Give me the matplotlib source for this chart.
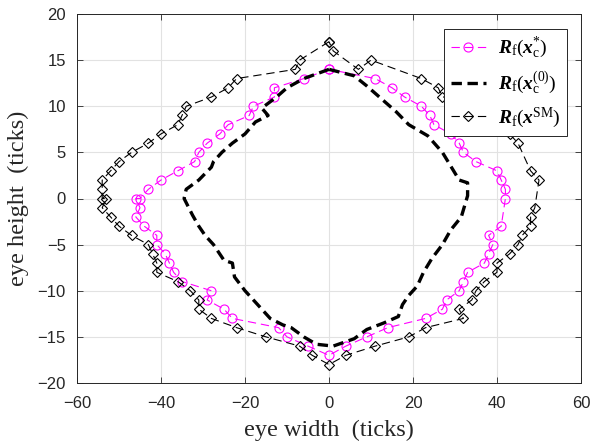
import matplotlib
matplotlib.use('Agg')
import matplotlib.pyplot as plt

## 1. Data 数据
# R_f(x_c*) : pink circles
opt_x = [0, -6, -13, -13, -18, -19, -24, -26, -29, -31, -32, -36, -40, -43, -45, -46,
         -45, -46, -44, -41, -41, -39, -38, -37, -35, -28, -29, -25, -23, -12, -10, -5,
         0, 4, 9, 14, 23, 27, 28, 31, 32, 33, 37, 38, 39, 38, 41, 42,
         42, 41, 40, 35, 32, 31, 29, 25, 24, 22, 18, 15, 11, 0]
opt_y = [14, 13, 12, 11, 10, 9, 8, 7, 6, 5, 4, 3, 2, 1, 0, 0,
         -1, -2, -3, -4, -5, -6, -7, -8, -9, -10, -11, -12, -13, -14, -15, -16,
         -17, -16, -15, -14, -13, -12, -11, -10, -9, -8, -7, -6, -5, -4, -3, 0,
         1, 2, 3, 4, 5, 6, 7, 8, 9, 10, 11, 12, 13, 14]

# R_f(x_c^(0)) : thick black dashed
init_x = [0, -6, -10, -12.5, -16, -14.5, -17.5, -20, -23, -25.5, -27.5, -28, -31, -34, -34.5,
          -32.5, -31, -29.5, -27.5, -25, -23, -22.5, -20, -17, -14, -11, -9, -6, -3, 1,
          6, 9, 13, 16.5, 17.5, 19, 21, 22.5, 24.5, 27, 29, 31.5, 33, 33,
          31, 29, 27, 23.5, 19, 16, 12, 9, 6, 0]
init_y = [14, 13, 12, 11, 9.8, 9, 8.3, 7, 6, 5, 4, 3.4, 2, 1, 0,
          -1.8, -3, -4, -5, -6.7, -7, -8.5, -10, -11.5, -13, -13.7, -14, -15, -15.8, -16,
          -15.2, -14.2, -13.5, -12.8, -11.5, -10.5, -9.5, -8, -6.5, -5, -3.4, -2, 0.3, 1.7,
          2, 3.5, 5, 6.8, 8, 9.4, 11, 12.2, 13.3, 14]

# R_f(x^SM) : black diamonds
sm_x = [0, -7, -8, -22, -24, -28, -34, -35, -36, -40, -43, -47, -50, -52, -54, -54, -54, -53,
        -54, -52, -50, -47, -43, -42, -41, -41, -36, -33, -31, -31, -28, -22, -15, -7, -4,
        0, 4, 11, 19, 23, 32, 31, 34, 35, 37, 40, 40, 43, 45, 46, 48, 48, 49,
        50, 48, 45, 43, 41, 38, 34, 30, 27, 26, 22, 10, 7, 1, 0]
sm_y = [17, 15, 14, 13, 12, 11, 10, 9, 8, 7, 6, 5, 4, 3, 2, 1, 0, 0,
        -1, -2, -3, -4, -5, -6, -7, -8, -9, -10, -11, -12, -13, -14, -15, -16, -17,
        -18, -17, -16, -15, -14, -13, -12, -11, -10, -9, -8, -7, -6, -5, -4, -3, -2, -1,
        2, 3, 6, 7, 8, 9, 10, 11, 11, 12, 13, 15, 14, 16, 17]

xticks = [-60, -40, -20, 0, 20, 40, 60]
yticks = [-20, -15, -10, -5, 0, 5, 10, 15, 20]

## 2. Style 样式
plt.rcParams['lines.scale_dashes'] = False
plt.rcParams['mathtext.fontset'] = 'custom'
plt.rcParams['mathtext.rm'] = 'Liberation Serif'
plt.rcParams['mathtext.it'] = 'Liberation Serif:italic'
plt.rcParams['mathtext.bf'] = 'Liberation Serif:bold'
plt.rcParams['mathtext.bfit'] = 'Liberation Serif:italic:bold'

axcol = '#262626'

## 3. Plotting 作图
fig = plt.figure(figsize=(6.07, 4.45), dpi=100)
ax = fig.add_axes([77 / 607, 62 / 445, 504 / 607, 369 / 445])

ax.plot(opt_x, opt_y, color='#ff00ff', lw=0.8, linestyle=(0, (6, 3.5)),
        marker='o', markersize=6.5, markerfacecolor='none', markeredgewidth=0.8,
        label=r'$\mathbfit{R}_{\mathrm{f}}(\mathbfit{x}_{\mathrm{c}}^{*})$')
ax.plot(init_x, init_y, color='black', lw=2.4, linestyle=(0, (7.5, 4)),
        label=r'$\mathbfit{R}_{\mathrm{f}}(\mathbfit{x}_{\mathrm{c}}^{(0)})$')
ax.plot(sm_x, sm_y, color='black', lw=0.8, linestyle=(0, (6, 3.5)),
        marker='D', markersize=5.5, markerfacecolor='none', markeredgewidth=0.8,
        label=r'$\mathbfit{R}_{\mathrm{f}}(\mathbfit{x}^{\mathrm{SM}})$')

ax.set_xlim(-60, 60)
ax.set_ylim(-20, 20)
ax.set_xticks(xticks)
ax.set_yticks(yticks)
ax.grid(True, color='#e2e2e2', lw=0.8)
ax.set_axisbelow(True)
ax.tick_params(direction='in', length=4, width=0.6, top=True, right=True,
               labelsize=12, colors=axcol, labelcolor=axcol)
ax.tick_params(axis='x', pad=9)
ax.tick_params(axis='y', pad=8)
for lab in ax.get_xticklabels() + ax.get_yticklabels():
    lab.set_family('Liberation Sans')
for sp in ax.spines.values():
    sp.set_color(axcol)
    sp.set_linewidth(0.7)

ax.set_xlabel('eye width  (ticks)', family='Liberation Serif', fontsize=17.5, color=axcol, labelpad=7)
ax.set_ylabel('eye height  (ticks)', family='Liberation Serif', fontsize=17.5, color=axcol, labelpad=6)

leg = ax.legend(loc='upper right', bbox_to_anchor=(0.972, 0.959), borderaxespad=0,
                fontsize=14, fancybox=False, framealpha=1, edgecolor=axcol,
                handlelength=1.8, handletextpad=0.6, labelspacing=0.45, borderpad=0.35)
leg.get_frame().set_linewidth(0.7)

fig.savefig('out.png', dpi=100)
